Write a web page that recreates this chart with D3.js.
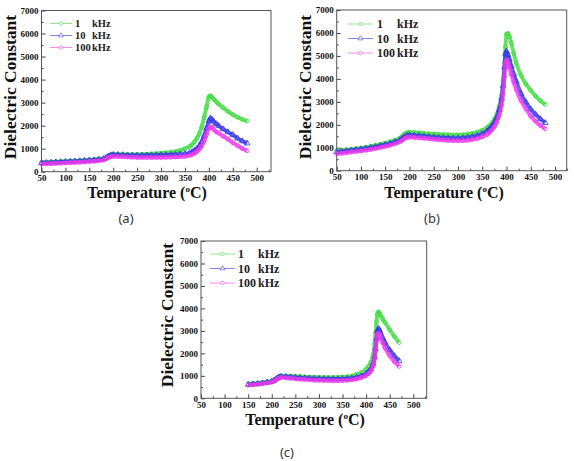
<!DOCTYPE html>
<html>
<head>
<meta charset="utf-8">
<script src="https://cdn.jsdelivr.net/npm/d3@7"></script>
<style>
  body { margin: 0; background: #fff; }
  svg { display: block; }
</style>
</head>
<body>
<div id="chart"></div>
<script>
// frequency series shared by all three panels
const freqLabels = ['1', '10', '100'];
const xTicks = [50, 100, 150, 200, 250, 300, 350, 400, 450, 500];
const yTicks = [0, 1000, 2000, 3000, 4000, 5000, 6000, 7000];

// panel (a)
const tempsA = [50,60,70,80,90,100,110,120,130,140,150,160,170,180,185,190,195,200,210,220,230,240,250,260,270,280,290,300,310,320,330,340,350,360,365,370,375,380,385,390,395,400,403,406,410,415,420,430,440,450,460,470,480];
const a1k = [400,410,420,430,440,450,460,470,485,500,515,530,550,580,620,690,740,760,760,750,745,745,750,755,765,775,790,805,825,845,870,920,1000,1100,1180,1300,1450,1650,1950,2350,2800,3250,3300,3250,3150,3050,2950,2780,2620,2480,2370,2270,2200];
const a10k = [380,390,400,410,420,430,440,450,462,475,490,505,525,555,600,670,720,735,735,725,715,710,708,708,710,712,715,720,725,732,742,755,775,820,860,920,1000,1120,1300,1550,1880,2200,2320,2280,2180,2080,2000,1850,1720,1600,1450,1330,1230];
const a100k = [330,340,350,360,370,380,390,400,412,425,440,455,475,505,550,610,650,660,655,645,635,628,622,618,615,615,617,620,625,632,640,652,670,710,745,800,870,970,1110,1320,1600,1880,1960,1920,1830,1740,1680,1540,1410,1260,1130,1010,910];

// panel (b)
const tempsB = [50,60,70,80,90,100,110,120,130,140,150,160,170,180,185,190,195,200,210,220,230,240,250,260,270,280,290,300,310,320,330,340,350,360,365,370,375,380,385,390,393,396,398,400,403,406,410,415,420,430,440,450,460,470,480];
const b1k = [870,890,910,935,960,990,1020,1060,1100,1150,1200,1260,1330,1420,1500,1600,1660,1680,1670,1650,1630,1610,1600,1590,1575,1565,1560,1560,1570,1590,1620,1680,1760,1880,1970,2080,2240,2450,2800,3300,3900,4700,5400,5950,5980,5850,5550,5100,4700,4150,3780,3500,3250,3050,2880];
const b10k = [820,840,860,885,910,935,965,1000,1040,1085,1130,1180,1250,1330,1400,1480,1530,1550,1540,1520,1500,1480,1460,1445,1430,1420,1415,1415,1425,1445,1480,1530,1610,1730,1820,1940,2100,2320,2650,3150,3700,4500,5100,5200,5050,4850,4550,4200,3900,3350,2980,2680,2450,2250,2080];
const b100k = [740,760,785,810,835,860,890,925,965,1010,1055,1105,1170,1250,1320,1400,1450,1460,1450,1430,1410,1390,1370,1350,1335,1320,1310,1305,1310,1325,1355,1400,1470,1580,1660,1770,1910,2100,2400,2850,3350,4100,4650,4820,4700,4500,4200,3850,3550,3050,2700,2380,2150,1970,1820];

// panel (c)
const tempsC = [150,160,170,180,190,200,205,210,215,220,230,240,250,260,270,280,290,300,310,320,330,340,350,360,370,380,390,400,405,410,415,418,420,422,424,426,428,430,435,440,450,460,470];
const c1k = [640,660,680,705,735,775,820,900,975,1000,995,985,975,965,955,945,940,935,930,930,930,935,945,965,1000,1060,1150,1300,1420,1600,1950,2400,2900,3400,3750,3850,3800,3720,3550,3380,3050,2750,2480];
const c10k = [610,630,650,675,705,745,790,865,940,965,955,940,925,910,895,885,875,865,860,855,855,855,860,870,890,930,990,1090,1170,1300,1550,1850,2200,2650,3000,3100,3050,2950,2700,2480,2150,1880,1660];
const c100k = [580,600,620,645,675,715,760,830,900,925,910,890,870,850,835,820,808,798,792,788,786,786,790,800,820,860,920,1010,1090,1210,1450,1750,2100,2550,2850,2900,2850,2750,2480,2250,1900,1630,1420];

const colors = ['#3ddc3d', '#3535e6', '#ee38ee'];
const shapes = [d3.symbolCircle, d3.symbolTriangle, d3.symbolCircle];
const serif = '"Liberation Serif", "Times New Roman", serif';

const panels = [
  { temps: tempsA, series: [a1k, a10k, a100k], label: '(a)',
    left: 41.5, right: 271, top: 10.5, bottom: 171.7, x500: 256.7,
    legend: { x1: 50, x2: 72, tx: 75, kx: 92, y0: 23.5, dy: 12, fs: 10.5 },
    yTitle: [10, 87], xTitle: [147, 198], tag: [126, 218] },
  { temps: tempsB, series: [b1k, b10k, b100k], label: '(b)',
    left: 336.7, right: 566.7, top: 10, bottom: 170.7, x500: 555,
    legend: { x1: 348, x2: 373, tx: 377, kx: 397, y0: 24, dy: 14.5, fs: 12 },
    yTitle: [305, 87], xTitle: [444, 198], tag: [432, 218] },
  { temps: tempsC, series: [c1k, c10k, c100k], label: '(c)',
    left: 201, right: 426.7, top: 241, bottom: 398.3, x500: 413.3,
    legend: { x1: 210, x2: 235, tx: 238, kx: 258, y0: 254, dy: 14.5, fs: 12 },
    yTitle: [167, 315], xTitle: [305, 425], tag: [287, 452] }
];

const svg = d3.select('#chart').append('svg')
  .attr('width', 574)
  .attr('height', 461);

panels.forEach(p => drawPanel(p));

function styleAxis(a) {
  a.select('.domain').remove();
  a.selectAll('line').attr('stroke', '#444');
  a.selectAll('text')
    .style('font-family', serif)
    .style('font-weight', 'bold')
    .style('font-size', '9px')
    .attr('fill', '#111');
}

function drawPanel(p) {
  const x = d3.scaleLinear().domain([50, 500]).range([p.left, p.x500]);
  const y = d3.scaleLinear().domain([0, 7000]).range([p.bottom, p.top]);
  const g = svg.append('g');

  // minor ticks
  const xMinor = d3.range(75, 526, 50);
  const yMinor = d3.range(500, 7000, 1000);
  g.append('g')
    .attr('transform', `translate(0,${p.bottom})`)
    .call(d3.axisBottom(x).tickValues(xMinor).tickSize(-2).tickFormat(''))
    .call(styleAxis);
  g.append('g')
    .attr('transform', `translate(${p.left},0)`)
    .call(d3.axisLeft(y).tickValues(yMinor).tickSize(-2).tickFormat(''))
    .call(styleAxis);

  // major ticks
  g.append('g')
    .attr('transform', `translate(0,${p.bottom})`)
    .call(d3.axisBottom(x).tickValues(xTicks).tickSize(-4).tickPadding(3).tickFormat(d3.format('d')))
    .call(styleAxis);
  g.append('g')
    .attr('transform', `translate(${p.left},0)`)
    .call(d3.axisLeft(y).tickValues(yTicks).tickSize(-4).tickPadding(3).tickFormat(d3.format('d')))
    .call(styleAxis);

  // frame
  g.append('rect')
    .attr('x', p.left).attr('y', p.top)
    .attr('width', p.right - p.left).attr('height', p.bottom - p.top)
    .attr('fill', 'none').attr('stroke', '#555').attr('stroke-width', 1);

  // series, 1 kHz first so 100 kHz sits on top
  p.series.forEach((vals, i) => {
    const pts = p.temps.map((t, j) => [t, vals[j]]);
    const line = d3.line().x(d => x(d[0])).y(d => y(d[1])).curve(d3.curveMonotoneX);
    g.append('path')
      .datum(pts)
      .attr('d', line)
      .attr('fill', 'none')
      .attr('stroke', colors[i])
      .attr('stroke-width', 4)
      .attr('stroke-opacity', 0.8);
    g.selectAll(null)
      .data(pts)
      .enter()
      .append('path')
      .attr('transform', d => `translate(${x(d[0])},${y(d[1])})`)
      .attr('d', d3.symbol().type(shapes[i]).size(i === 1 ? 14 : 12))
      .attr('fill', 'none')
      .attr('stroke', colors[i])
      .attr('stroke-width', 0.8);
  });

  // legend
  const L = p.legend;
  freqLabels.forEach((f, i) => {
    const ly = L.y0 + i * L.dy;
    g.append('line')
      .attr('x1', L.x1).attr('x2', L.x2)
      .attr('y1', ly).attr('y2', ly)
      .attr('stroke', colors[i]).attr('stroke-opacity', 0.6);
    g.append('path')
      .attr('transform', `translate(${(L.x1 + L.x2) / 2},${ly})`)
      .attr('d', d3.symbol().type(shapes[i]).size(10))
      .attr('fill', 'white')
      .attr('stroke', colors[i]).attr('stroke-opacity', 0.7)
      .attr('stroke-width', 0.8);
    const lt = g.append('text')
      .attr('y', ly).attr('dy', '0.35em')
      .style('font-family', serif)
      .style('font-weight', 'bold')
      .style('font-size', L.fs + 'px')
      .attr('fill', '#222');
    lt.append('tspan').attr('x', L.tx).text(f);
    lt.append('tspan').attr('x', L.kx).text('kHz');
  });

  // axis titles
  g.append('text')
    .attr('transform', `translate(${p.yTitle[0]},${p.yTitle[1]}) rotate(-90)`)
    .attr('text-anchor', 'middle')
    .attr('dy', '0.35em')
    .style('font-family', serif)
    .style('font-weight', 'bold')
    .style('font-size', '17.5px')
    .attr('fill', '#111')
    .text('Dielectric Constant');

  const xt = g.append('text')
    .attr('x', p.xTitle[0]).attr('y', p.xTitle[1])
    .attr('text-anchor', 'middle')
    .style('font-family', serif)
    .style('font-weight', 'bold')
    .style('font-size', '16px')
    .attr('fill', '#111');
  xt.append('tspan').text('Temperature (');
  xt.append('tspan').attr('dy', '-6').style('font-size', '9px').text('o');
  xt.append('tspan').attr('dy', '6').text('C)');

  // panel tag
  g.append('text')
    .attr('x', p.tag[0]).attr('y', p.tag[1])
    .attr('text-anchor', 'middle')
    .attr('dy', '0.35em')
    .style('font-family', '"Noto Sans", sans-serif')
    .style('font-size', '13px')
    .attr('fill', '#333')
    .text(p.label);
}
</script>
</body>
</html>
